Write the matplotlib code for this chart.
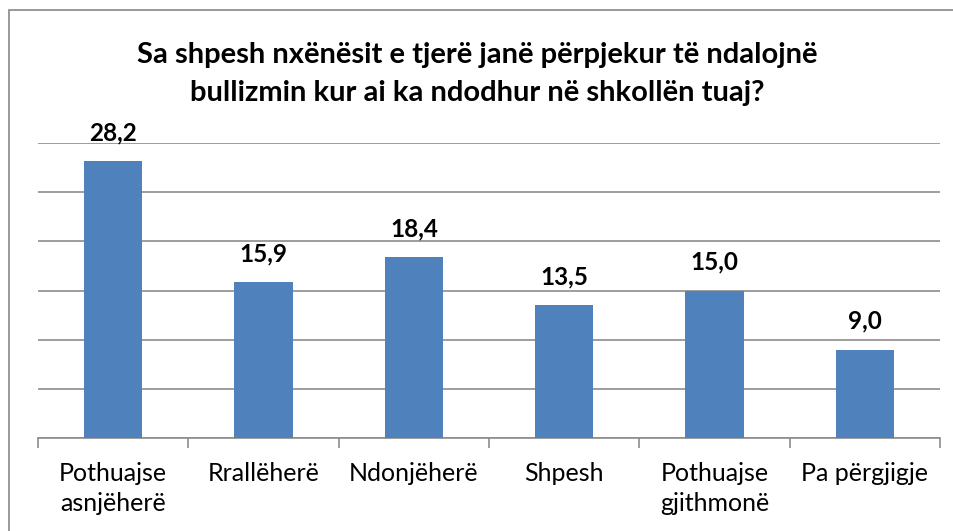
import matplotlib
matplotlib.use("Agg")
import matplotlib.pyplot as plt
from matplotlib.patches import Rectangle

plt.rcParams['font.family'] = ['Lato', 'DejaVu Sans']

categories = ['Pothuajse\nasnjëherë', 'Rrallëherë', 'Ndonjëherë', 'Shpesh',
              'Pothuajse\ngjithmonë', 'Pa përgjigje']
values = [28.2, 15.9, 18.4, 13.5, 15.0, 9.0]
labels = ['28,2', '15,9', '18,4', '13,5', '15,0', '9,0']
title = 'Sa shpesh nxënësit e tjerë janë përpjekur të ndalojnë\nbullizmin kur ai ka ndodhur në shkollën tuaj?'

W, H = 954, 531
fig = plt.figure(figsize=(W / 100, H / 100), dpi=100)

# outer chart border (only top/left visible, cropped)
fig.patches.append(Rectangle((9 / W, -0.1), 1.2, (H - 10) / H + 0.1, transform=fig.transFigure,
                             fill=False, edgecolor='#888888', linewidth=1.2))

ax = fig.add_axes([38 / W, (H - 438) / H, (940 - 38) / W, (438 - 143) / H])
x = list(range(len(values)))
ax.bar(x, values, width=0.39, color='#4F81BD', zorder=3)
ax.set_xlim(-0.5, len(values) - 0.5)
ax.set_ylim(0, 30)
ax.set_yticks([0, 5, 10, 15, 20, 25, 30])
ax.yaxis.grid(True, color='#8c8c8c', linewidth=1.2, zorder=0)
ax.tick_params(axis='y', left=False, labelleft=False)
for s in ['top', 'right', 'left']:
    ax.spines[s].set_visible(False)
ax.spines['bottom'].set_color('#8c8c8c')
ax.spines['bottom'].set_linewidth(1.2)

ax.set_xticks([i - 0.5 for i in range(len(values) + 1)], minor=False)
ax.set_xticklabels([])
ax.tick_params(axis='x', which='major', length=7, color='#8c8c8c', width=1.2)
ax.set_xticks(x, minor=True)
ax.set_xticklabels(categories, minor=True, fontsize=18, color='black', linespacing=1.4, va='top')
ax.tick_params(axis='x', which='minor', length=0, pad=17)

for xi, v, lab in zip(x, values, labels):
    ax.text(xi, v + 1.7, lab, ha='center', va='bottom', fontsize=17.5, fontweight='bold')

fig.text(0.5, (H - 74) / H, title, ha='center', va='center', fontsize=21,
         fontweight='bold', linespacing=1.6)

fig.savefig('out.png', dpi=100, facecolor='white')
